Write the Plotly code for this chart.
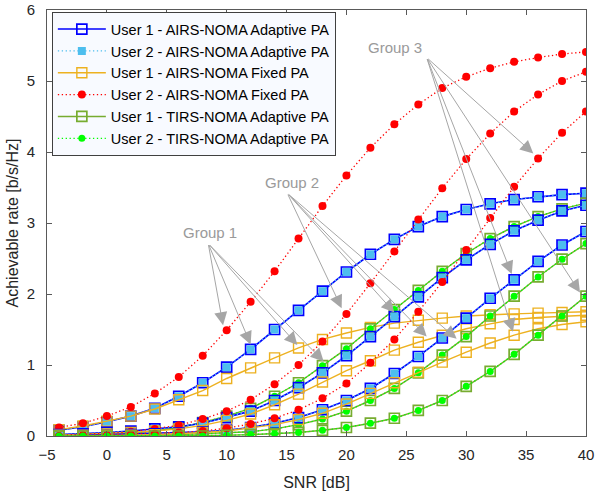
import plotly.graph_objects as go

# SNR grid (dB)
snr = [-4, -2, 0, 2, 4, 6, 8, 10, 12, 14, 16, 18, 20, 22, 24, 26, 28, 30, 32, 34, 36, 38, 40]

# Group 1
g1_airs_adapt_u1 = [0.08, 0.13, 0.20, 0.28, 0.39, 0.56, 0.75, 0.97, 1.22, 1.50, 1.77, 2.04, 2.31, 2.56, 2.77, 2.95, 3.09, 3.19, 3.27, 3.33, 3.37, 3.40, 3.42]
g1_airs_adapt_u2 = [0.08, 0.13, 0.20, 0.28, 0.39, 0.56, 0.75, 0.97, 1.22, 1.50, 1.77, 2.04, 2.31, 2.56, 2.77, 2.95, 3.09, 3.19, 3.27, 3.33, 3.37, 3.40, 3.42]
g1_airs_fixed_u1 = [0.09, 0.14, 0.21, 0.28, 0.38, 0.51, 0.64, 0.81, 0.96, 1.10, 1.24, 1.36, 1.45, 1.53, 1.59, 1.63, 1.66, 1.69, 1.71, 1.72, 1.73, 1.74, 1.75]
g1_airs_fixed_u2 = [0.12, 0.18, 0.28, 0.41, 0.60, 0.83, 1.13, 1.49, 1.89, 2.32, 2.78, 3.24, 3.67, 4.06, 4.39, 4.67, 4.90, 5.06, 5.18, 5.27, 5.33, 5.38, 5.41]
g1_tirs_adapt_u1 = [0.00, 0.01, 0.02, 0.04, 0.07, 0.12, 0.19, 0.28, 0.39, 0.56, 0.75, 0.99, 1.23, 1.51, 1.78, 2.05, 2.32, 2.57, 2.78, 2.95, 3.09, 3.20, 3.28]
g1_tirs_adapt_u2 = [0.00, 0.01, 0.02, 0.04, 0.07, 0.12, 0.19, 0.28, 0.39, 0.56, 0.75, 0.99, 1.23, 1.51, 1.78, 2.05, 2.32, 2.57, 2.78, 2.95, 3.09, 3.20, 3.28]

# Group 2
g2_airs_adapt_u1 = [0.02, 0.03, 0.05, 0.07, 0.10, 0.13, 0.18, 0.26, 0.35, 0.50, 0.68, 0.89, 1.13, 1.40, 1.68, 1.96, 2.23, 2.48, 2.70, 2.89, 3.04, 3.17, 3.25]
g2_airs_adapt_u2 = [0.02, 0.03, 0.05, 0.07, 0.10, 0.13, 0.18, 0.26, 0.35, 0.50, 0.68, 0.89, 1.13, 1.40, 1.68, 1.96, 2.23, 2.48, 2.70, 2.89, 3.04, 3.17, 3.25]
g2_airs_fixed_u1 = [0.01, 0.02, 0.03, 0.05, 0.07, 0.10, 0.15, 0.22, 0.31, 0.44, 0.59, 0.76, 0.92, 1.06, 1.21, 1.32, 1.42, 1.51, 1.58, 1.64, 1.67, 1.69, 1.70]
g2_airs_fixed_u2 = [0.01, 0.02, 0.04, 0.06, 0.10, 0.15, 0.24, 0.35, 0.51, 0.73, 1.00, 1.33, 1.72, 2.15, 2.60, 3.05, 3.49, 3.90, 4.26, 4.57, 4.81, 5.00, 5.13]
g2_tirs_adapt_u1 = [0.00, 0.00, 0.01, 0.01, 0.01, 0.02, 0.03, 0.04, 0.06, 0.10, 0.16, 0.24, 0.35, 0.50, 0.67, 0.89, 1.14, 1.40, 1.69, 1.97, 2.24, 2.49, 2.71]
g2_tirs_adapt_u2 = [0.00, 0.00, 0.01, 0.01, 0.01, 0.02, 0.03, 0.04, 0.06, 0.10, 0.16, 0.24, 0.35, 0.50, 0.67, 0.89, 1.14, 1.40, 1.69, 1.97, 2.24, 2.49, 2.71]

# Group 3
g3_airs_adapt_u1 = [0.00, 0.01, 0.01, 0.02, 0.03, 0.04, 0.06, 0.08, 0.12, 0.18, 0.26, 0.37, 0.50, 0.67, 0.88, 1.12, 1.38, 1.66, 1.94, 2.20, 2.46, 2.69, 2.88]
g3_airs_adapt_u2 = [0.00, 0.01, 0.01, 0.02, 0.03, 0.04, 0.06, 0.08, 0.12, 0.18, 0.26, 0.37, 0.50, 0.67, 0.88, 1.12, 1.38, 1.66, 1.94, 2.20, 2.46, 2.69, 2.88]
g3_airs_fixed_u1 = [0.00, 0.00, 0.01, 0.01, 0.02, 0.03, 0.05, 0.07, 0.11, 0.16, 0.23, 0.32, 0.45, 0.60, 0.75, 0.90, 1.04, 1.18, 1.31, 1.42, 1.51, 1.57, 1.61]
g3_airs_fixed_u2 = [0.00, 0.01, 0.01, 0.02, 0.03, 0.05, 0.07, 0.11, 0.17, 0.25, 0.37, 0.53, 0.74, 1.03, 1.36, 1.75, 2.17, 2.62, 3.07, 3.51, 3.91, 4.27, 4.57]
g3_tirs_adapt_u1 = [0.00, 0.00, 0.00, 0.00, 0.00, 0.00, 0.00, 0.01, 0.02, 0.03, 0.05, 0.08, 0.12, 0.18, 0.25, 0.36, 0.50, 0.70, 0.91, 1.15, 1.42, 1.69, 1.97]
g3_tirs_adapt_u2 = [0.00, 0.00, 0.00, 0.00, 0.00, 0.00, 0.00, 0.01, 0.02, 0.03, 0.05, 0.08, 0.12, 0.18, 0.25, 0.36, 0.50, 0.70, 0.91, 1.15, 1.42, 1.69, 1.97]

legend_names = [
    "User 1 - AIRS-NOMA Adaptive PA",
    "User 2 - AIRS-NOMA Adaptive PA",
    "User 1 - AIRS-NOMA Fixed PA",
    "User 2 - AIRS-NOMA Fixed PA",
    "User 1 - TIRS-NOMA Adaptive PA",
    "User 2 - TIRS-NOMA Adaptive PA",
]

# Group labels, the common start of their arrows, and the (x, y) tips the arrows point to
group_labels = ["Group 1", "Group 2", "Group 3"]
group_label_pos = [(8.63, 2.86), (15.43, 3.57), (24.05, 5.47)]
group_arrow_origin = [(8.46, 2.71), (15.06, 3.42), (26.7, 5.33)]
group_arrow_tips = [
    [(9.7, 1.56), (12.0, 1.29), (15.9, 1.28), (18.1, 1.05)],
    [(19.6, 1.80), (24.0, 1.74), (26.7, 1.40), (29.2, 1.37)],
    [(35.6, 3.98), (33.8, 2.28), (33.9, 1.47), (39.5, 2.02)],
]

BLUE = "#0000FF"
CYAN = "#4DBEEE"
ORANGE = "#EDB120"
RED = "#FF0000"
GREEN = "#77AC30"
LIME = "#00FF00"
FONT = "Liberation Sans, Arial, sans-serif"
DOTTED = "1.3px,2.6px"

styles = [
    dict(line=dict(color=BLUE, width=1.6, dash="solid"),
         marker=dict(symbol="square-open", size=10, color=BLUE, line=dict(width=1.7, color=BLUE))),
    dict(line=dict(color=CYAN, width=1.3, dash=DOTTED),
         marker=dict(symbol="square", size=8, color=CYAN, line=dict(width=0))),
    dict(line=dict(color=ORANGE, width=1.4, dash="solid"),
         marker=dict(symbol="square-open", size=10, color=ORANGE, line=dict(width=1.4, color=ORANGE))),
    dict(line=dict(color=RED, width=1.3, dash=DOTTED),
         marker=dict(symbol="circle", size=8, color=RED, line=dict(width=0))),
    dict(line=dict(color=GREEN, width=1.4, dash="solid"),
         marker=dict(symbol="square-open", size=10, color=GREEN, line=dict(width=1.7, color=GREEN))),
    dict(line=dict(color=LIME, width=1.3, dash=DOTTED),
         marker=dict(symbol="circle", size=7, color=LIME, line=dict(width=0))),
]

groups = [
    [g1_airs_adapt_u1, g1_airs_adapt_u2, g1_airs_fixed_u1, g1_airs_fixed_u2, g1_tirs_adapt_u1, g1_tirs_adapt_u2],
    [g2_airs_adapt_u1, g2_airs_adapt_u2, g2_airs_fixed_u1, g2_airs_fixed_u2, g2_tirs_adapt_u1, g2_tirs_adapt_u2],
    [g3_airs_adapt_u1, g3_airs_adapt_u2, g3_airs_fixed_u1, g3_airs_fixed_u2, g3_tirs_adapt_u1, g3_tirs_adapt_u2],
]

fig = go.Figure()
for gi, series in enumerate(groups):
    for k, ys in enumerate(series):
        fig.add_trace(go.Scatter(
            x=snr, y=ys, mode="lines+markers", name=legend_names[k],
            legendgroup=legend_names[k], showlegend=(gi == 0),
            line=styles[k]["line"], marker=styles[k]["marker"],
        ))

annotations = []
for label, (lx, ly), (ox, oy), tips in zip(group_labels, group_label_pos, group_arrow_origin, group_arrow_tips):
    annotations.append(dict(x=lx, y=ly, xref="x", yref="y", text=label, showarrow=False,
                            font=dict(family=FONT, size=15, color="#9A9A9A")))
    for tx, ty in tips:
        annotations.append(dict(x=tx, y=ty, ax=ox, ay=oy, xref="x", yref="y", axref="x", ayref="y",
                                text="", showarrow=True, arrowhead=2, arrowsize=2.6, arrowwidth=1,
                                arrowcolor="#A6A6A6", standoff=0, startstandoff=0))

axis_common = dict(
    showline=True, linecolor="#595959", linewidth=1, mirror="allticks",
    ticks="inside", ticklen=5, tickcolor="#595959", showgrid=False, zeroline=False,
    automargin=False,
    tickfont=dict(family=FONT, size=15, color="#262626"),
)

fig.update_layout(
    width=595, height=491,
    margin=dict(l=47, r=9, t=10, b=55),
    paper_bgcolor="white", plot_bgcolor="white",
    font=dict(family=FONT, size=15, color="#262626"),
    xaxis=dict(range=[-5, 40], tickmode="array", tickvals=list(range(-5, 41, 5)),
               ticklabelstandoff=5,
               title=dict(text="SNR [dB]", standoff=14, font=dict(size=16)), **axis_common),
    yaxis=dict(range=[0, 6], tickmode="array", tickvals=list(range(0, 7)),
               ticklabelstandoff=8,
               title=dict(text="Achievable rate [b/s/Hz]", standoff=4, font=dict(size=16)), **axis_common),
    legend=dict(x=0.009, y=0.995, xanchor="left", yanchor="top",
                bgcolor="#F8FAFF", bordercolor="#404040", borderwidth=1,
                font=dict(family=FONT, size=14.5, color="#000000"),
                itemwidth=48, tracegroupgap=0),
    annotations=annotations,
    showlegend=True,
)

fig.write_html("out.html")
